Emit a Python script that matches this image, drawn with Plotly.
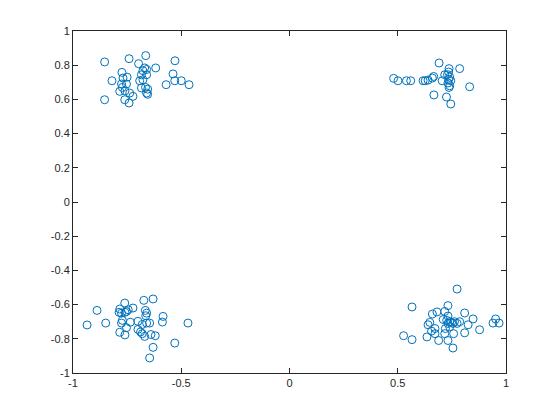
import plotly.graph_objects as go

tl_x = [-0.854, -0.741, -0.664, -0.697, -0.529, -0.618, -0.669, -0.66, -0.677, -0.774, -0.538, -0.684, -0.66,
        -0.82, -0.769, -0.75, -0.692, -0.677, -0.53, -0.5, -0.57, -0.464, -0.776, -0.753, -0.772, -0.684, -0.665,
        -0.655, -0.784, -0.76, -0.738, -0.723, -0.66, -0.655, -0.854, -0.761, -0.741]
tl_y = [0.819, 0.838, 0.856, 0.809, 0.826, 0.784, 0.784, 0.775, 0.768, 0.758, 0.749, 0.744, 0.744,
        0.709, 0.725, 0.73, 0.709, 0.715, 0.709, 0.709, 0.686, 0.686, 0.69, 0.69, 0.67, 0.667, 0.67,
        0.66, 0.647, 0.65, 0.637, 0.618, 0.637, 0.63, 0.598, 0.598, 0.579]

tr_x = [0.691, 0.786, 0.737, 0.735, 0.73, 0.717, 0.666, 0.66, 0.74, 0.481, 0.501, 0.54, 0.56, 0.617, 0.627,
        0.64, 0.705, 0.735, 0.745, 0.732, 0.74, 0.737, 0.832, 0.667, 0.725, 0.745]
tr_y = [0.813, 0.78, 0.78, 0.76, 0.745, 0.744, 0.734, 0.725, 0.73, 0.723, 0.709, 0.709, 0.709, 0.709, 0.709,
        0.713, 0.709, 0.716, 0.709, 0.696, 0.68, 0.67, 0.674, 0.626, 0.614, 0.573]

bl_x = [-0.935, -0.889, -0.849, -0.784, -0.787, -0.776, -0.761, -0.753, -0.745, -0.76, -0.723, -0.673, -0.63,
        -0.666, -0.66, -0.664, -0.584, -0.587, -0.772, -0.776, -0.735, -0.70, -0.68, -0.66, -0.646, -0.753,
        -0.70, -0.688, -0.68, -0.669, -0.64, -0.62, -0.784, -0.76, -0.469, -0.53, -0.63, -0.646]
bl_y = [-0.719, -0.634, -0.708, -0.626, -0.645, -0.65, -0.591, -0.64, -0.63, -0.645, -0.62, -0.575, -0.567,
        -0.634, -0.65, -0.665, -0.669, -0.702, -0.692, -0.708, -0.703, -0.698, -0.716, -0.708, -0.708, -0.735,
        -0.745, -0.76, -0.77, -0.786, -0.775, -0.782, -0.762, -0.777, -0.708, -0.825, -0.85, -0.912]

br_x = [0.774, 0.566, 0.732, 0.717, 0.681, 0.66, 0.809, 0.848, 0.732, 0.71, 0.726, 0.74, 0.648, 0.748, 0.762,
        0.786, 0.774, 0.825, 0.64, 0.732, 0.755, 0.94, 0.952, 0.968, 0.672, 0.72, 0.74, 0.878, 0.656, 0.672,
        0.717, 0.758, 0.809, 0.635, 0.527, 0.566, 0.689, 0.732, 0.755]
br_y = [-0.509, -0.614, -0.606, -0.64, -0.643, -0.655, -0.649, -0.684, -0.667, -0.687, -0.692, -0.70, -0.704,
        -0.704, -0.70, -0.70, -0.71, -0.718, -0.718, -0.71, -0.71, -0.708, -0.684, -0.708, -0.74, -0.74, -0.73,
        -0.747, -0.755, -0.77, -0.77, -0.77, -0.765, -0.789, -0.782, -0.805, -0.81, -0.81, -0.854]

x_ticks = [-1, -0.5, 0, 0.5, 1]
x_labels = ["-1", "-0.5", "0", "0.5", "1"]
y_ticks = [-1, -0.8, -0.6, -0.4, -0.2, 0, 0.2, 0.4, 0.6, 0.8, 1]
y_labels = ["-1", "-0.8", "-0.6", "-0.4", "-0.2", "0", "0.2", "0.4", "0.6", "0.8", "1"]

xs = tl_x + tr_x + bl_x + br_x
ys = tl_y + tr_y + bl_y + br_y

fig = go.Figure(go.Scatter(
    x=xs, y=ys, mode="markers",
    marker=dict(symbol="circle-open", size=8, color="#0072BD", line=dict(width=1, color="#0072BD")),
    showlegend=False, hoverinfo="skip"))

axis_common = dict(showgrid=False, zeroline=False, showline=True, linecolor="#262626", linewidth=1,
                   mirror="ticks", ticks="inside", ticklen=5, tickcolor="#262626",
                   tickfont=dict(family="Liberation Sans, Arial, sans-serif", size=11, color="#262626"))

fig.update_xaxes(range=[-1, 1], tickvals=x_ticks, ticktext=x_labels, **axis_common)
fig.update_yaxes(range=[-1, 1], tickvals=y_ticks, ticktext=y_labels, **axis_common)

fig.update_layout(width=552, height=412, margin=dict(l=65, r=54, t=23, b=47),
                  paper_bgcolor="white", plot_bgcolor="white")

fig.write_html("out.html")
